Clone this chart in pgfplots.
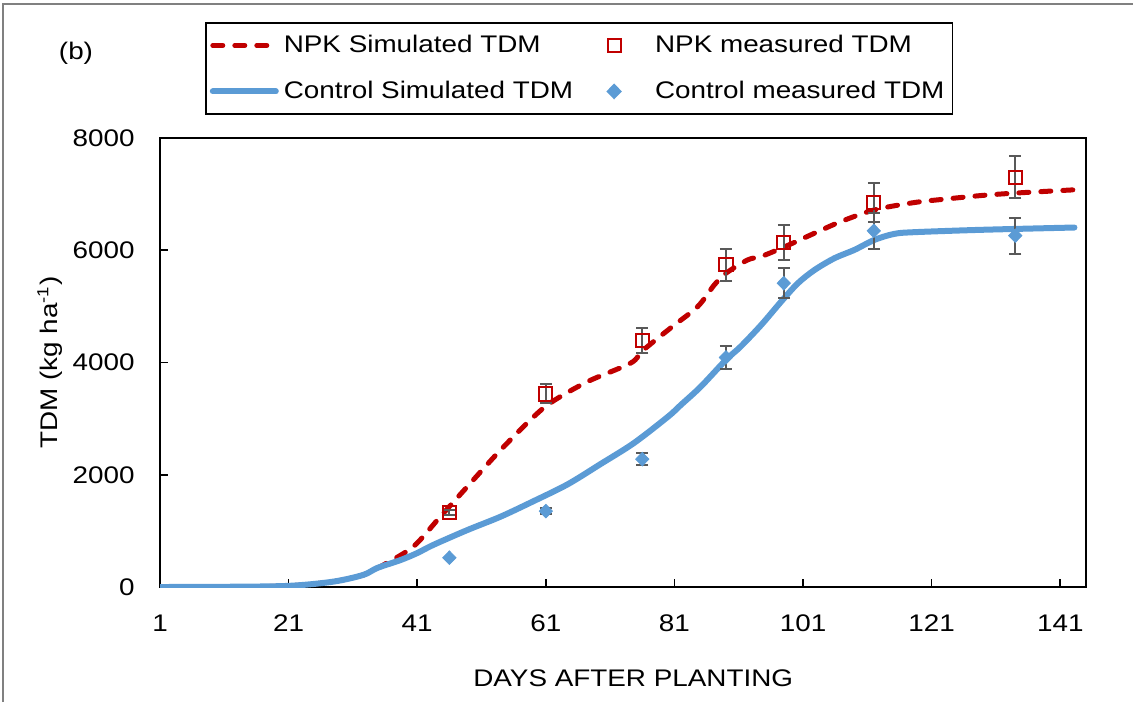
\documentclass[12pt,border=0pt]{standalone}
\usepackage{fontspec}
\setmainfont{Liberation Sans}[FakeStretch=1.16]
\usepackage{pgfplots}
\pgfplotsset{compat=1.18}
\definecolor{npkred}{HTML}{C00000}
\definecolor{ctrlblue}{HTML}{5B9BD5}
\definecolor{errgray}{HTML}{595959}
\pgfplotsset{
  lineleg/.style={legend image code/.code={\path[draw=none, fill=none] (0pt,0pt) -- (35pt,0pt);
    \draw[##1] (1.5pt,0pt) -- (33pt,0pt);}},
  markleg/.style={legend image code/.code={\path[draw=none, fill=none] (0pt,0pt) -- (35pt,0pt);
    \draw[##1] plot coordinates {(16.5pt,0pt)};}},
}

\begin{document}
\begin{tikzpicture}
\path[use as bounding box] (-80pt,-57.5pt) rectangle (486.5pt,293.5pt);
\draw[gray, line width=1pt] (-78.5pt,-57.5pt) -- (-78.5pt,291.5pt) -- (486.5pt,291.5pt);
\begin{axis}[
  at={(0pt,0pt)}, anchor=south west,
  scale only axis, width=463pt, height=224.5pt,
  xmin=1, xmax=145, ymin=0, ymax=8000,
  xtick={1,21,...,141}, ytick={0,2000,...,8000},
  tick pos=left, tick align=inside, major tick length=4pt,
  axis line style={line width=0.9pt},
  tick style={line width=0.8pt, black},
  /pgf/number format/assume math mode=true,
  /pgf/number format/1000 sep={},
  scaled y ticks=false,
  yticklabel style={anchor=east, inner sep=0pt, xshift=-12.5pt},
  xticklabel style={anchor=base, inner sep=0pt, yshift=-22pt},
  xlabel={DAYS AFTER PLANTING},
  xlabel style={at={(axis description cs:0.511,0)}, anchor=base, yshift=-49.8pt},
  ylabel={TDM (kg ha\textsuperscript{-1})},
  ylabel style={at={(axis description cs:-0.1112,0.5)}, anchor=base},
  legend columns=2,
  legend cell align=left,
  legend style={at={(axis description cs:0.0486,1.258)}, anchor=north west,
    draw=black, line width=0.8pt, font=\normalsize,
    inner xsep=2pt, inner ysep=4pt, row sep=8.5pt,
    /tikz/every odd column/.append style={column sep=0pt},
    /tikz/every even column/.append style={column sep=2pt}},
]
% NPK simulated
\addplot[npkred, line width=2.5pt, line cap=round, dash pattern=on 5pt off 6pt, smooth, lineleg]
  table {
d v
1 0
10 3
20.9 20
27.9 95
32.6 215
34.8 340
35.7 390
40.4 720
44.6 1255
48.8 1790
53.5 2385
58.3 2945
61.7 3280
67.5 3660
74.2 3990
76.2 4225
80.4 4615
84.6 4995
87.2 5383
89.0 5590
92.4 5829
94.5 5890
98.0 6055
102.8 6305
106.9 6512
112.1 6720
118.3 6850
123.5 6916
128.7 6975
133.9 7018
143.2 7077
};
\addlegendentry{NPK Simulated TDM}
% NPK measured
\addplot[only marks, mark=square, mark size=3.3pt, mark options={draw=npkred, line width=1pt}, markleg,
  error bars/.cd, y dir=both, y explicit,
  error bar style={errgray, line width=1pt},
  error mark options={errgray, rotate=90, mark size=3pt, line width=1pt}]
  table[x=d, y=v, y error=e] {
d v e
46 1330 50
61 3440 170
76 4390 220
89 5740 285
98 6135 310
112 6845 345
134 7300 375
};
\addlegendentry{NPK measured TDM}
% Control simulated
\addplot[ctrlblue, line width=3pt, line cap=round, smooth, lineleg]
  table {
d v
1 0
10 3
20.9 20
27.9 95
32.6 215
34.8 340
38.4 480
41.0 605
43.5 750
48.8 1015
54.0 1255
59.1 1530
64.4 1830
69.5 2190
74.7 2565
80.0 3035
82.0 3244
85.1 3570
89.0 4046
91.3 4284
94.5 4670
97.6 5086
100.2 5413
102.8 5650
105.9 5859
109.0 6007
112.1 6185
115.2 6292
118.3 6322
128.7 6364
143.2 6405
};
\addlegendentry{Control Simulated TDM}
% Control measured
\addplot[only marks, mark=diamond*, mark size=3.4pt, mark options={draw=ctrlblue, fill=ctrlblue, xscale=1.3}, markleg,
  error bars/.cd, y dir=both, y explicit,
  error bar style={errgray, line width=1pt},
  error mark options={errgray, rotate=90, mark size=3pt, line width=1pt}]
  table[x=d, y=v, y error=e] {
d v e
46 522 0
61 1352 60
76 2278 110
89 4090 210
98 5413 267
112 6346 318
134 6260 320
};
\addlegendentry{Control measured TDM}
\end{axis}
\node at (-42pt,267pt) {(b)};
\end{tikzpicture}
\end{document}
